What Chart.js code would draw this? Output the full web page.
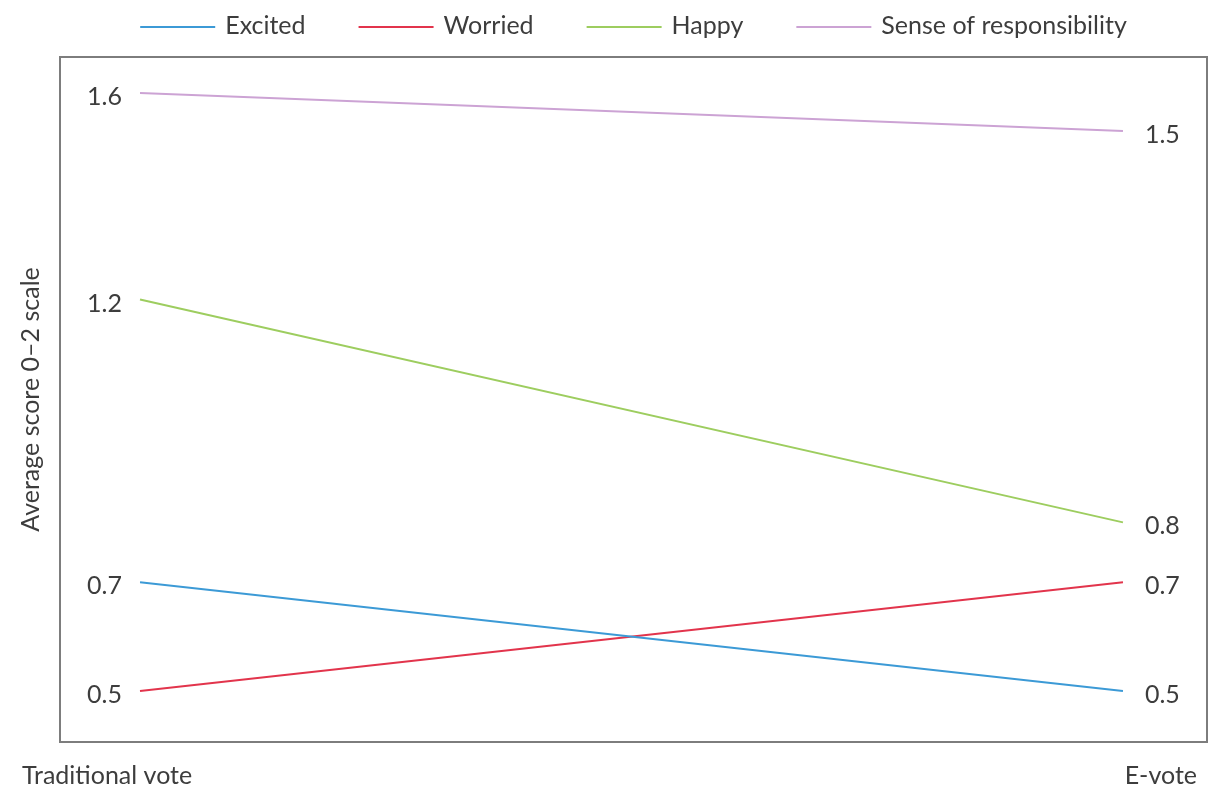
<!DOCTYPE html>
<html>
<head>
<meta charset="utf-8">
<title>Traditional vote vs E-vote</title>
<script src="https://cdn.jsdelivr.net/npm/chart.js@4.4.1/dist/chart.umd.min.js"></script>
<style>
  html, body { margin: 0; padding: 0; background: #fff; }
  canvas { display: block; }
</style>
</head>
<body>
<canvas id="chart" width="1209" height="789"></canvas>
<script>
// values (0-2 scale)
const categories = ["Traditional vote", "E-vote"];
const seriesNames = ["Excited", "Worried", "Happy", "Sense of responsibility"];
const excited = [0.70, 0.50];
const worried = [0.50, 0.70];
const happy = [1.22, 0.81];
const responsibility = [1.60, 1.53];
const seriesColors = ["#3c9ad6", "#e2344c", "#9dcd5f", "#cca3d4"];

const FONT = "Lato, 'Open Sans', sans-serif";
const TEXT = "#3d3d3d";

const seriesValues = [excited, worried, happy, responsibility];

function toPoints(values) {
  return values.map((v, i) => ({ x: i, y: v }));
}

const datasets = seriesValues.map((values, i) => ({
  label: seriesNames[i],
  data: toPoints(values),
  borderColor: seriesColors[i],
  backgroundColor: seriesColors[i],
  borderWidth: 2,
  pointRadius: 0,
  tension: 0
}));

// grey box round the plot area
const framePlugin = {
  id: "frame",
  afterDraw(chart) {
    const { ctx, chartArea: a } = chart;
    ctx.save();
    ctx.strokeStyle = "#7d7d7d";
    ctx.lineWidth = 2;
    ctx.strokeRect(a.left, a.top, a.right - a.left, a.bottom - a.top);
    ctx.restore();
  }
};

// value labels at both ends of every line
const endLabelsPlugin = {
  id: "endLabels",
  afterDatasetsDraw(chart) {
    const ctx = chart.ctx;
    ctx.save();
    ctx.font = "25px " + FONT;
    ctx.fillStyle = TEXT;
    ctx.textBaseline = "middle";
    chart.data.datasets.forEach((ds, i) => {
      const pts = chart.getDatasetMeta(i).data;
      const first = pts[0], last = pts[pts.length - 1];
      ctx.textAlign = "right";
      ctx.fillText(ds.data[0].y.toFixed(1), first.x - 18, first.y + 4);
      ctx.textAlign = "left";
      ctx.fillText(ds.data[ds.data.length - 1].y.toFixed(1), last.x + 22, last.y + 4);
    });
    ctx.restore();
  }
};

// legend row above the box
const lineLegendPlugin = {
  id: "lineLegend",
  afterDraw(chart) {
    const { ctx, chartArea: a } = chart;
    const swatch = 75, gap = 10, spacing = 53, y = 27;
    ctx.save();
    ctx.font = "25px " + FONT;
    ctx.textBaseline = "middle";
    ctx.textAlign = "left";
    const items = chart.data.datasets.map(ds => ({
      text: ds.label,
      color: ds.borderColor,
      w: ctx.measureText(ds.label).width
    }));
    let total = spacing * (items.length - 1);
    items.forEach(it => { total += swatch + gap + it.w; });
    let x = (a.left + a.right) / 2 - total / 2;
    items.forEach(it => {
      ctx.strokeStyle = it.color;
      ctx.lineWidth = 2;
      ctx.beginPath();
      ctx.moveTo(x, y);
      ctx.lineTo(x + swatch, y);
      ctx.stroke();
      ctx.fillStyle = TEXT;
      ctx.fillText(it.text, x + swatch + gap, y - 1);
      x += swatch + gap + it.w + spacing;
    });
    ctx.restore();
  }
};

// category names under the box corners
const categoryPlugin = {
  id: "categoryNames",
  afterDraw(chart) {
    const { ctx, chartArea: a } = chart;
    ctx.save();
    ctx.font = "25px " + FONT;
    ctx.fillStyle = TEXT;
    ctx.textBaseline = "middle";
    ctx.textAlign = "left";
    ctx.fillText(categories[0], a.left - 38, a.bottom + 34);
    ctx.textAlign = "right";
    ctx.fillText(categories[categories.length - 1], a.right - 10, a.bottom + 34);
    ctx.restore();
  }
};

new Chart(document.getElementById("chart").getContext("2d"), {
  type: "line",
  data: { datasets },
  options: {
    responsive: false,
    animation: false,
    layout: { padding: { top: 57, bottom: 47, left: 0, right: 2 } },
    plugins: {
      legend: { display: false },
      tooltip: { enabled: false }
    },
    scales: {
      x: {
        type: "linear",
        display: false,
        min: -0.0814,
        max: 1.0855
      },
      y: {
        min: 0.406,
        max: 1.666,
        grid: { display: false },
        border: { display: false },
        ticks: { display: false },
        title: {
          display: true,
          text: "Average score 0\u20132 scale",
          color: TEXT,
          font: { family: FONT, size: 25 },
          padding: { top: 16, bottom: 0 }
        },
        afterFit(scale) { scale.width = 60; }
      }
    }
  },
  plugins: [framePlugin, endLabelsPlugin, lineLegendPlugin, categoryPlugin]
});
</script>
</body>
</html>
